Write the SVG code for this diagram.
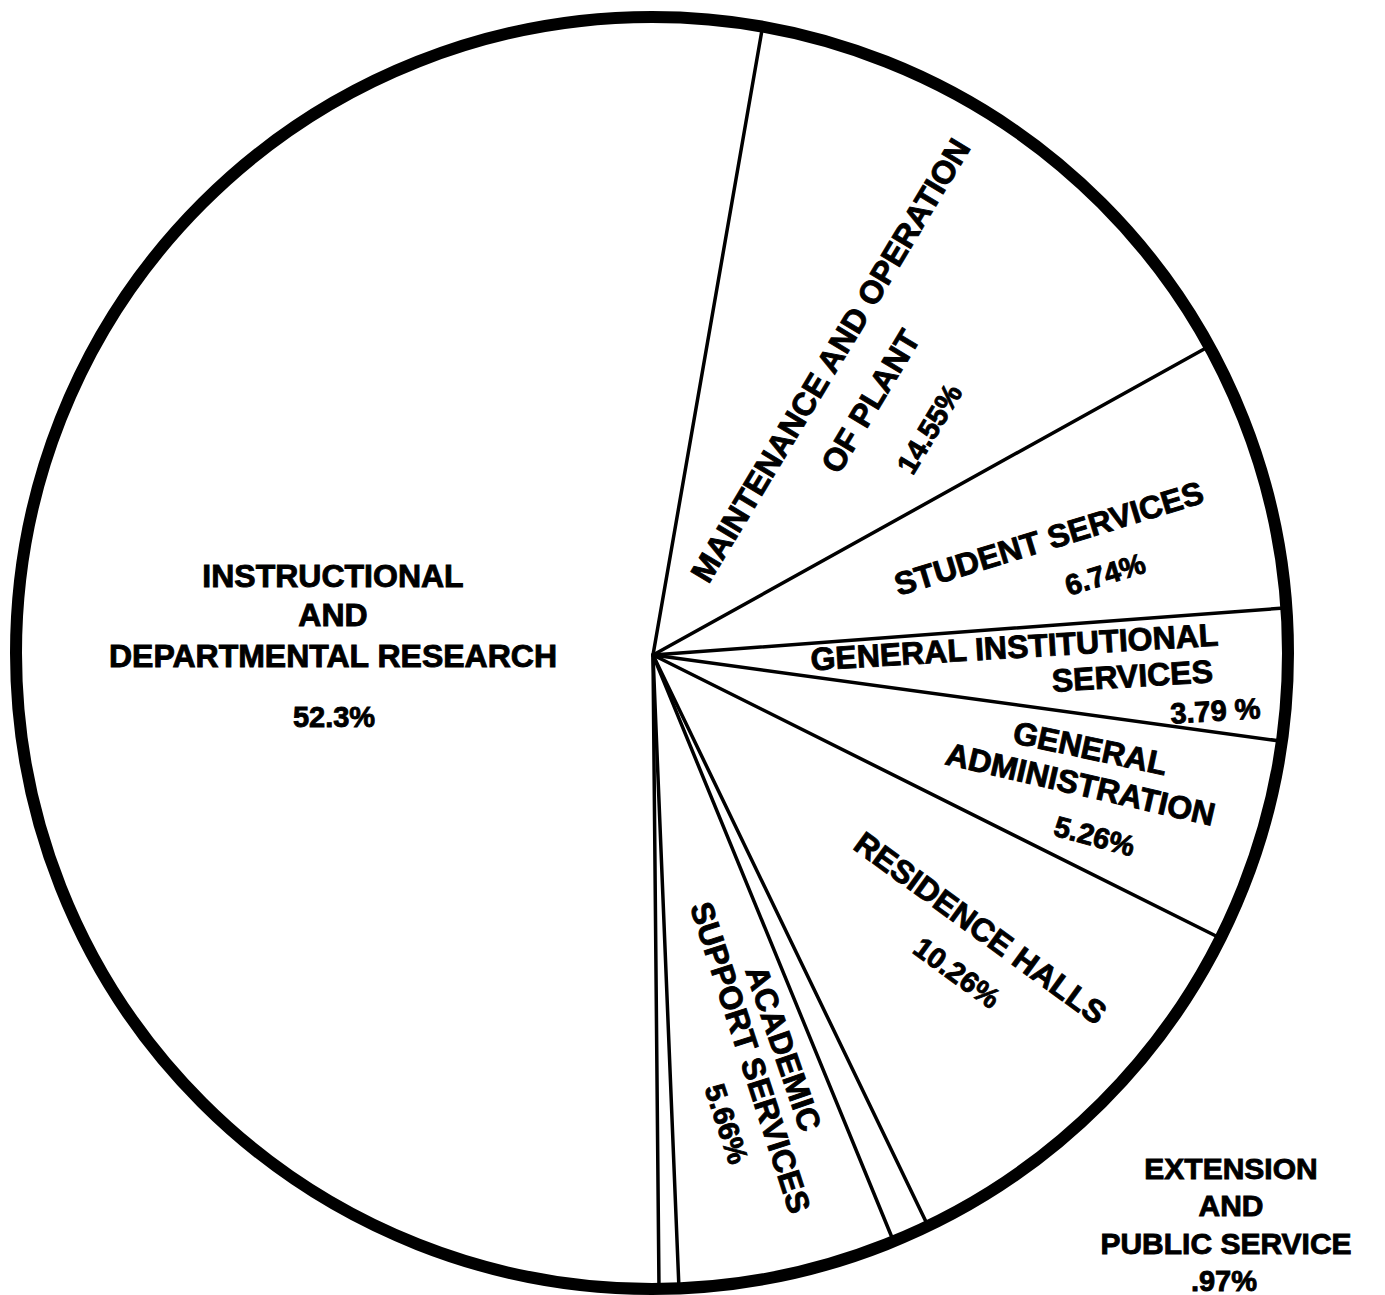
<svg xmlns="http://www.w3.org/2000/svg" width="1385" height="1295" viewBox="0 0 1385 1295">
<style>
.lbl{font-family:"Liberation Sans",Arial,sans-serif;font-weight:bold;font-size:32px;fill:#000;stroke:#000;stroke-width:0.9;text-anchor:middle}
.pct{font-size:29px}
.ext{font-size:30px}
.rad{stroke:#000;stroke-width:3.5;fill:none;stroke-linecap:round}
</style>
<rect width="1385" height="1295" fill="#fff"/>
<g id="connectors">
<line class="rad" x1="653" y1="655" x2="762" y2="30"/>
<line class="rad" x1="653" y1="655" x2="1206" y2="348"/>
<line class="rad" x1="653" y1="655" x2="1284" y2="608"/>
<line class="rad" x1="653" y1="655" x2="1280" y2="741"/>
<line class="rad" x1="653" y1="655" x2="1218" y2="937"/>
<line class="rad" x1="653" y1="655" x2="929" y2="1228"/>
<line class="rad" x1="653" y1="655" x2="893" y2="1240"/>
<line class="rad" x1="653" y1="655" x2="679" y2="1289"/>
<line class="rad" x1="653" y1="655" x2="659" y2="1289"/>
</g>
<circle id="pie-outline" cx="652" cy="653" r="636" fill="none" stroke="#000" stroke-width="12"/>
<g id="instructional">
<text class="lbl" x="333" y="587">INSTRUCTIONAL</text>
<text class="lbl" x="333" y="626">AND</text>
<text class="lbl" x="333" y="667">DEPARTMENTAL RESEARCH</text>
<text class="lbl pct" x="334" y="727">52.3%</text>
</g>
<g id="maintenance">
<text class="lbl" transform="translate(840,366) rotate(-59)">MAINTENANCE AND OPERATION</text>
<text class="lbl" transform="translate(880,407) rotate(-59)">OF PLANT</text>
<text class="lbl pct" transform="translate(938,434) rotate(-59)">14.55%</text>
</g>
<g id="student-services">
<text class="lbl" transform="translate(1052,549) rotate(-17)">STUDENT SERVICES</text>
<text class="lbl pct" transform="translate(1108,584) rotate(-17)">6.74%</text>
</g>
<g id="general-institutional">
<text class="lbl" transform="translate(1015,658) rotate(-3.5)">GENERAL INSTITUTIONAL</text>
<text class="lbl" transform="translate(1133,687) rotate(-3.5)">SERVICES</text>
<text class="lbl pct" transform="translate(1216,721) rotate(-3.5)">3.79 %</text>
</g>
<g id="general-administration">
<text class="lbl" transform="translate(1088,759) rotate(12)">GENERAL</text>
<text class="lbl" transform="translate(1078,795) rotate(13)">ADMINISTRATION</text>
<text class="lbl pct" transform="translate(1092,846) rotate(15)">5.26%</text>
</g>
<g id="residence-halls">
<text class="lbl" transform="translate(974,937) rotate(36)">RESIDENCE HALLS</text>
<text class="lbl pct" transform="translate(951,981) rotate(36)">10.26%</text>
</g>
<g id="academic-support">
<text class="lbl" transform="translate(773,1052) rotate(71)">ACADEMIC</text>
<text class="lbl" transform="translate(740,1061) rotate(72)">SUPPORT SERVICES</text>
<text class="lbl pct" transform="translate(717,1127) rotate(72)">5.66%</text>
</g>
<g id="extension">
<text class="lbl ext" x="1231" y="1179">EXTENSION</text>
<text class="lbl ext" x="1231" y="1216">AND</text>
<text class="lbl ext" x="1226" y="1254">PUBLIC SERVICE</text>
<text class="lbl pct" x="1224" y="1291">.97%</text>
</g>
</svg>
